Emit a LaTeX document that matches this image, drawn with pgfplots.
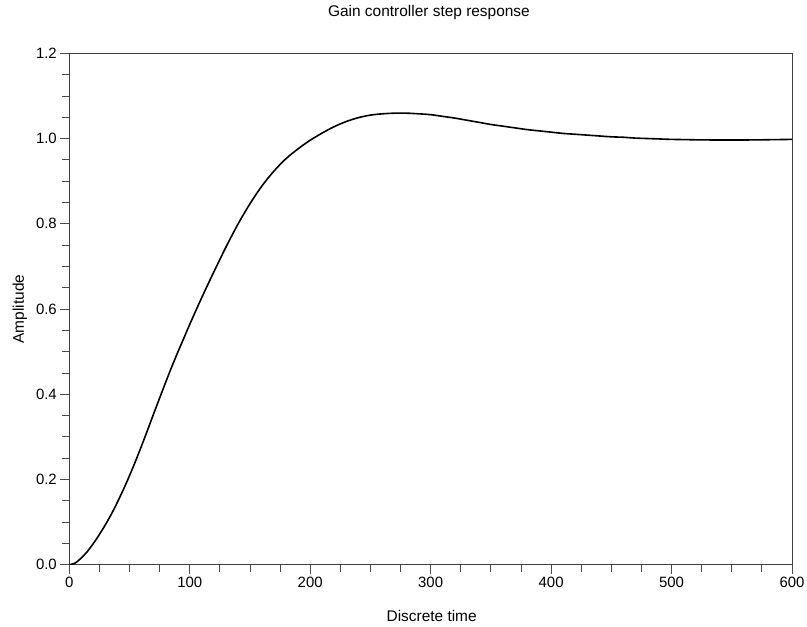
\documentclass[border=0pt]{standalone}
\usepackage{fontspec}
\setmainfont{Liberation Sans}
\usepackage{pgfplots}
\pgfplotsset{compat=1.18}
\begin{document}
\begin{tikzpicture}
\begin{axis}[
  scale only axis, width=722.7bp, height=511.4bp,
  xmin=0, xmax=600, ymin=0, ymax=1.2,
  xtick={0,100,200,300,400,500,600},
  ytick={0,0.2,0.4,0.6,0.8,1.0,1.2},
  minor x tick num=3, minor y tick num=3,
  tick align=outside, tick pos=left,
  major tick length=9bp, minor tick length=7bp,
  every tick/.style={black!70, line width=0.8bp},
  axis line style={black!75, line width=0.8bp},
  ticklabel style={font=\fontsize{15}{18}\selectfont},
  yticklabel style={/pgf/number format/.cd, fixed, fixed zerofill, precision=1},
  xticklabel style={/pgf/number format/fixed},
  /pgf/number format/assume math mode=true,
  title={Gain controller step response},
  title style={font=\fontsize{15.5}{18}\selectfont, at={(axis description cs:0.5,1)}, anchor=base, yshift=31bp, xshift=-1.7bp},
  xlabel={Discrete time},
  xlabel style={font=\fontsize{15.5}{18}\selectfont, at={(axis description cs:0.5,0)}, anchor=base, yshift=-56.3bp, xshift=1bp},
  ylabel={Amplitude},
  ylabel style={font=\fontsize{15.5}{18}\selectfont, at={(axis description cs:0,0.5)}, rotate=0, anchor=center, yshift=49.3bp},
]
\addplot[black, line width=1.6bp, smooth] coordinates {
(0,0) (5,0.004) (10,0.016) (15,0.031) (20,0.050) (25,0.071) (30,0.094) (35,0.119)
(40,0.147) (45,0.177) (50,0.209) (55,0.243) (60,0.279) (65,0.316) (70,0.354)
(75,0.391) (80,0.428) (85,0.464) (90,0.498) (95,0.531) (100,0.564) (110,0.627)
(120,0.687) (130,0.745) (140,0.799) (150,0.847) (160,0.889) (170,0.924) (180,0.953)
(190,0.976) (200,0.996) (210,1.013) (220,1.028) (230,1.040) (240,1.049) (250,1.055)
(260,1.058) (270,1.0595) (280,1.0595) (290,1.058) (300,1.056) (310,1.052) (320,1.048)
(330,1.043) (340,1.038) (350,1.033) (360,1.029) (370,1.025) (380,1.021) (390,1.018)
(400,1.015) (410,1.012) (420,1.010) (430,1.008) (440,1.006) (450,1.004) (460,1.003)
(470,1.001) (480,1.000) (490,0.999) (500,0.998) (510,0.9975) (520,0.997) (530,0.9967)
(540,0.9965) (550,0.9965) (560,0.9966) (570,0.9968) (580,0.9972) (590,0.9976) (600,0.998)
};
\end{axis}
\pgfresetboundingbox
\path[use as bounding box] ([shift={(-69.3bp,-62.3bp)}]current axis.south west) rectangle ([shift={(15bp,53.3bp)}]current axis.north east);
\end{tikzpicture}
\end{document}
